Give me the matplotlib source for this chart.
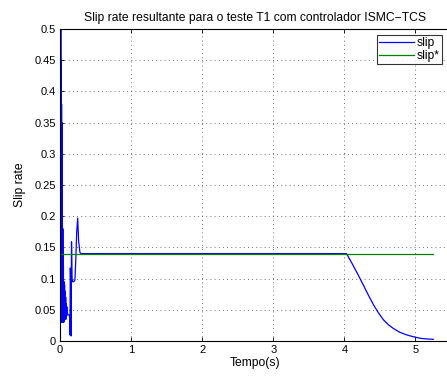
import matplotlib
matplotlib.use("Agg")
import matplotlib.pyplot as plt

plt.rcParams['font.family'] = ['Liberation Sans', 'DejaVu Sans']

# Wheel slip response (time in s, slip ratio)
t_slip = [0.000, 0.002, 0.004, 0.006, 0.008, 0.010, 0.012, 0.014, 0.016, 0.018,
          0.020, 0.022, 0.024, 0.026, 0.028, 0.032, 0.036, 0.040, 0.044, 0.048,
          0.052, 0.056, 0.060, 0.064, 0.068, 0.072, 0.076, 0.080, 0.084, 0.088,
          0.092, 0.096, 0.100, 0.110, 0.125, 0.135, 0.140, 0.145, 0.150, 0.155,
          0.162, 0.170, 0.178, 0.195, 0.210, 0.222, 0.235, 0.249, 0.262, 0.280,
          0.296, 1.000, 2.000, 3.000, 4.030, 4.100, 4.180, 4.270, 4.340, 4.410,
          4.480, 4.550, 4.620, 4.690, 4.780, 4.880, 4.970, 5.070, 5.160, 5.250]
slip = [0.000, 0.520, 0.040, 0.520, 0.035, 0.500, 0.030, 0.450, 0.030, 0.420,
        0.030, 0.380, 0.030, 0.350, 0.030, 0.260, 0.030, 0.180, 0.030, 0.120,
        0.030, 0.095, 0.032, 0.090, 0.035, 0.080, 0.035, 0.070, 0.035, 0.060,
        0.040, 0.055, 0.045, 0.042, 0.042, 0.040, 0.010, 0.117, 0.095, 0.008,
        0.159, 0.100, 0.095, 0.095, 0.098, 0.130, 0.175, 0.197, 0.160, 0.142,
        0.140, 0.140, 0.140, 0.140, 0.140, 0.126, 0.109, 0.089, 0.073, 0.058,
        0.045, 0.034, 0.026, 0.020, 0.014, 0.0096, 0.0068, 0.0043, 0.0033, 0.0027]

# Slip reference
t_ref = [0.0, 5.25]
slip_ref = [0.14, 0.14]

x_ticks = [0, 1, 2, 3, 4, 5]
y_ticks = [0, 0.05, 0.1, 0.15, 0.2, 0.25, 0.3, 0.35, 0.4, 0.45, 0.5]
y_labels = ['0', '0.05', '0.1', '0.15', '0.2', '0.25', '0.3', '0.35', '0.4', '0.45', '0.5']

fig = plt.figure(figsize=(4.47, 3.78), dpi=100)
ax = fig.add_axes([60 / 447, 1 - 341 / 378, 391 / 447, 312 / 378])

ax.plot(t_slip, slip, color='#0000ff', lw=0.9, label='slip')
ax.plot(t_ref, slip_ref, color='#008000', lw=0.9, label='slip*')

ax.set_xlim(0, 5.5)
ax.set_ylim(0, 0.5)
ax.set_xticks(x_ticks)
ax.set_yticks(y_ticks)
ax.set_yticklabels(y_labels)
ax.tick_params(direction='in', length=3, labelsize=8, width=0.6, pad=3,
               top=True, right=True)
ax.grid(True, linestyle=(0, (1, 4)), color='#444444', lw=0.6)
for s in ax.spines.values():
    s.set_linewidth(0.8)

ax.set_title('Slip rate resultante para o teste T1 com controlador ISMC\u2212TCS',
             fontsize=8.7, pad=6)
ax.set_xlabel('Tempo(s)', fontsize=8.7, labelpad=1)
ax.set_ylabel('Slip rate', fontsize=8.7, labelpad=6)

leg = ax.legend(loc='upper right', fontsize=8.7, frameon=True, fancybox=False,
                borderaxespad=0, handlelength=2.9, handletextpad=0.2,
                borderpad=0.2, labelspacing=0.05,
                bbox_to_anchor=(442 / 447, 1 - 35 / 378),
                bbox_transform=fig.transFigure)
leg.get_frame().set_edgecolor('black')
leg.get_frame().set_linewidth(0.8)

fig.savefig('out.png', dpi=100)
